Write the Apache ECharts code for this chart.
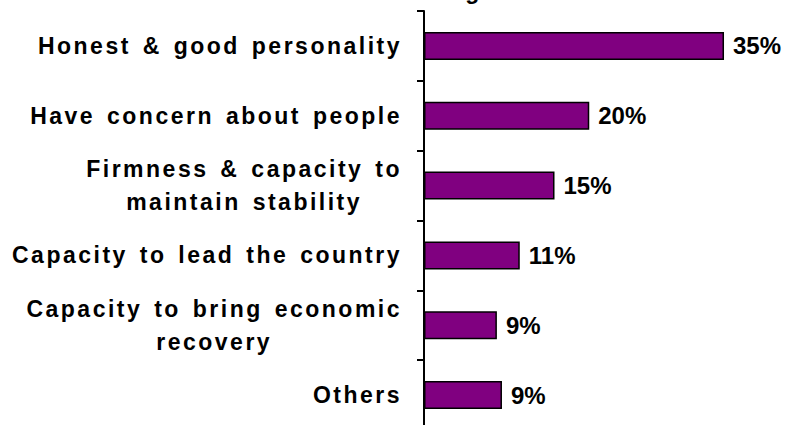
<!DOCTYPE html>
<html>
<head>
<meta charset="utf-8">
<script src="https://cdn.jsdelivr.net/npm/echarts@6/dist/echarts.min.js"></script>
<style>
  html, body { margin: 0; padding: 0; background: #fff; }
  #main { width: 790px; height: 425px; }
  /* the category labels are set with wide letter spacing */
  #main text[style*="23px"] { letter-spacing: 2.5px; word-spacing: 3px; }
</style>
</head>
<body>
<div id="main"></div>
<script>
const title = 'Reason for Voting Choice';
const categories = [
  'Honest & good personality',
  'Have concern about people',
  'Firmness & capacity to\nmaintain stability',
  'Capacity to lead the country',
  'Capacity to bring economic\nrecovery',
  'Others'
];
const shares = [35.4, 19.5, 15.4, 11.3, 8.6, 9.2];

const FONT = 'Liberation Sans, Arial, sans-serif';

// measure the spaced labels the same way the css draws them
const plainCtx = document.createElement('canvas').getContext('2d');
const spacedCtx = document.createElement('canvas').getContext('2d');
spacedCtx.letterSpacing = '2.5px';
spacedCtx.wordSpacing = '3px';
echarts.setPlatformAPI({
  measureText: function (text, font) {
    const ctx = font && font.indexOf('23px') > -1 ? spacedCtx : plainCtx;
    ctx.font = font || '12px sans-serif';
    return ctx.measureText(text);
  }
});

const chart = echarts.init(document.getElementById('main'), null, { renderer: 'svg' });

const option = {
  animation: false,
  backgroundColor: '#fff',
  title: {
    text: title,
    left: 237,
    top: -22,
    padding: 0,
    textStyle: { fontSize: 23, fontWeight: 'bold', fontFamily: FONT, color: '#000' }
  },
  grid: {
    left: 424,
    right: 27,
    top: 11,
    bottom: -5,
    outerBoundsMode: 'none'
  },
  xAxis: {
    type: 'value',
    min: 0,
    max: 40,
    show: false
  },
  yAxis: {
    type: 'category',
    data: categories,
    inverse: true,
    axisLine: { show: true, lineStyle: { color: '#000', width: 2 } },
    axisTick: { show: true, inside: false, length: 7, lineStyle: { color: '#000', width: 2 } },
    splitLine: { show: false },
    axisLabel: {
      interval: 0,
      margin: 22,
      align: 'right',
      color: '#000',
      fontSize: 23,
      fontWeight: 'bold',
      fontFamily: FONT,
      formatter: function (v) {
        return v.split('\n').map(s => '{c|' + s + '}').join('\n');
      },
      rich: {
        c: { align: 'center', color: '#000', fontSize: 23, fontWeight: 'bold', fontFamily: FONT, lineHeight: 33 }
      }
    }
  },
  series: [
    {
      type: 'bar',
      data: shares,
      barWidth: 28,
      itemStyle: { color: '#800080', borderColor: '#000', borderWidth: 1.5 },
      label: {
        show: true,
        position: 'right',
        distance: 9,
        color: '#000',
        fontSize: 24,
        fontWeight: 'bold',
        fontFamily: FONT,
        formatter: p => Math.round(p.value) + '%'
      }
    }
  ]
};

chart.setOption(option);
</script>
</body>
</html>
